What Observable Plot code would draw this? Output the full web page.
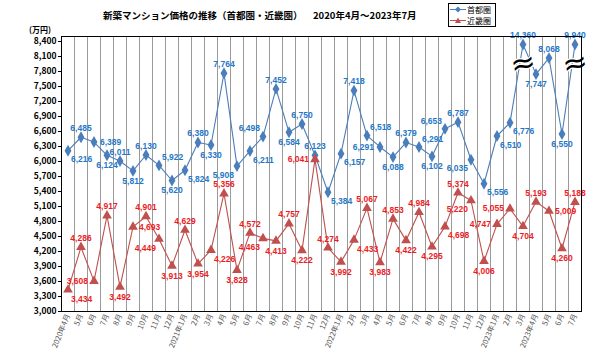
<!DOCTYPE html>
<html>
<head>
<meta charset="utf-8">
<script src="https://cdn.jsdelivr.net/npm/d3@7"></script>
<script src="https://cdn.jsdelivr.net/npm/@observablehq/plot@0.6"></script>
<style>
  html, body { margin: 0; padding: 0; background: #fff; }
  #wrap { position: relative; width: 601px; height: 355px; overflow: hidden; font-family: "Noto Sans CJK JP", sans-serif; }
  #chart { position: absolute; left: 0; top: 0; }
  .title { position: absolute; top: 11px; font-size: 9.5px; font-weight: bold; color: #000; white-space: nowrap; line-height: 1; }
  #unit { position: absolute; left: 29px; top: 26px; font-size: 8px; font-weight: bold; white-space: nowrap; line-height: 1; }
  #legend { position: absolute; left: 448px; top: 3px; width: 46px; height: 22px; border: 1px solid #000; background: #fff; font-size: 8px; line-height: 1; }
  #legend .row { position: absolute; left: 1px; display: flex; align-items: center; gap: 1px; white-space: nowrap; }
</style>
</head>
<body>
<div id="wrap">
  <div id="chart"></div>
  <div class="title" style="left:103px">新築マンション価格の推移（首都圏・近畿圏）</div>
  <div class="title" style="left:313px">2020年4月～2023年7月</div>
  <div id="unit">(万円)</div>
  <div id="legend">
    <div class="row" style="top:1px"><svg width="16" height="9"><line x1="0" y1="4.5" x2="16" y2="4.5" stroke="#4a7ebb" stroke-width="1"/><path d="M8,1.5 L11,4.5 L8,7.5 L5,4.5Z" fill="#4a7ebb"/></svg><span>首都圏</span></div>
    <div class="row" style="top:12px"><svg width="16" height="9"><line x1="0" y1="4.5" x2="16" y2="4.5" stroke="#c0504d" stroke-width="1"/><path d="M8,1.5 L11,7 L5,7Z" fill="#c0504d"/></svg><span>近畿圏</span></div>
  </div>
</div>
<script>
const months = ["2020年4月","5月","6月","7月","8月","9月","10月","11月","12月",
  "2021年1月","2月","3月","4月","5月","6月","7月","8月","9月","10月","11月","12月",
  "2022年1月","2月","3月","4月","5月","6月","7月","8月","9月","10月","11月","12月",
  "2023年1月","2月","3月","2023年4月","5月","6月","7月"];
const shuto = [6216,6485,6389,6124,6011,5812,6130,5922,5620,5824,6380,6330,7764,5908,6211,6498,7452,6584,6750,6123,5384,6157,7418,6518,6291,6088,6379,6291,6102,6653,6787,6035,5556,6510,6776,14360,7747,8068,6550,9940];
const kinki = [3434,4286,3608,4917,3492,4693,4901,4449,3913,4629,3954,4226,5356,3828,4572,4463,4413,4757,4222,6041,4274,3992,4433,5067,3983,4853,4422,4984,4295,4698,5374,5220,4006,4747,5055,4704,5193,5009,4260,5188];
const yTicks = [3000,3300,3600,3900,4200,4500,4800,5100,5400,5700,6000,6300,6600,6900,7200,7500,7800,8100,8400];
const yMin = 3000, yMax = 8500;
const cap = 8340; // values above the axis are drawn at the top with a break mark

const W = 601, H = 355, mL = 61, mR = 20, mT = 36, mB = 44;
const fmt = d3.format(",");
const xPx = d3.scaleLinear([-0.5, months.length - 0.5], [mL, W - mR]);
const yPx = d3.scaleLinear([yMin, yMax], [H - mB, mT]);

function kind(arr, i) {
  const v = arr[i], p = arr[i - 1], n = arr[i + 1];
  if (p === undefined) return n > v ? "min" : "max";
  if (n === undefined) return p > v ? "min" : "max";
  if (p < v && n < v) return "max";
  if (p > v && n > v) return "min";
  return p > v ? "fall" : "rise";
}
function rows(arr, series) {
  return arr.map((v, i) => ({i, v, y: Math.min(v, cap), series, kind: kind(arr, i), broken: v > yMax}));
}
const S = rows(shuto, "s");
const K = rows(kinki, "k");
const bounds = months.slice(1).map((_, i) => i + 0.5);

// ---- greedy label placement (avoid points, lines and other labels) ----
const cands = {
  top:    {cx: 0,  cy: -9, anchor: "middle"},
  bottom: {cx: 0,  cy: 10, anchor: "middle"},
  left:   {cx: -6, cy: 0,  anchor: "end"},
  right:  {cx: 6,  cy: 0,  anchor: "start"},
  ur:     {cx: 3,  cy: -8, anchor: "start"},
  ul:     {cx: -3, cy: -8, anchor: "end"},
  lr:     {cx: 3,  cy: 9,  anchor: "start"},
  ll:     {cx: -3, cy: 9,  anchor: "end"}
};
const prefs = {
  max:  ["top", "ul", "ur", "left", "right"],
  min:  ["bottom", "ll", "lr", "right", "left"],
  fall: ["ur", "ll", "right", "left", "lr", "ul", "top", "bottom"],
  rise: ["ul", "lr", "right", "left", "ur", "ll", "top", "bottom"]
};
const textW = s => s.split("").reduce((a, c) => a + (c === "," ? 2.7 : 5.0), 0);
function boxOf(d, key, pad = 0) {
  const c = cands[key], w = textW(fmt(d.v));
  const px = xPx(d.i) + c.cx, py = yPx(d.y) + c.cy;
  const x0 = c.anchor === "middle" ? px - w / 2 : c.anchor === "start" ? px : px - w;
  return [x0 - pad, py - 4 - pad, x0 + w + pad, py + 4 + pad];
}
const overlap = (a, b) => Math.max(0, Math.min(a[2], b[2]) - Math.max(a[0], b[0])) * Math.max(0, Math.min(a[3], b[3]) - Math.max(a[1], b[1]));
const pointBoxes = [...S, ...K].map(d => [xPx(d.i) - 4, yPx(d.y) - 4, xPx(d.i) + 4, yPx(d.y) + 4]);
const lineSamples = [];
for (const arr of [S, K]) for (let j = 0; j < arr.length - 1; j++) {
  const x1 = xPx(arr[j].i), y1 = yPx(arr[j].y), x2 = xPx(arr[j + 1].i), y2 = yPx(arr[j + 1].y);
  const n = Math.ceil(Math.hypot(x2 - x1, y2 - y1) / 2);
  for (let k = 1; k < n; k++) lineSamples.push([x1 + (x2 - x1) * k / n, y1 + (y2 - y1) * k / n]);
}
const placed = [];
const order = [...S, ...K].sort((a, b) => ((a.kind === "max" || a.kind === "min") ? 0 : 1) - ((b.kind === "max" || b.kind === "min") ? 0 : 1) || a.i - b.i);
for (const d of order) {
  let best = null, bestCost = Infinity;
  prefs[d.kind].forEach((key, rank) => {
    const b = boxOf(d, key, 1);
    let cost = rank * 6;
    for (const p of placed) cost += 80 * overlap(b, p);
    for (const p of pointBoxes) cost += 8 * overlap(b, p);
    for (const s of lineSamples) if (s[0] > b[0] && s[0] < b[2] && s[1] > b[1] && s[1] < b[3]) cost += 4;
    if (b[0] < mL + 1 || b[2] > W - mR + 14 || b[1] < mT - 8 || b[3] > H - mB - 1) cost += 200;
    if (cost < bestCost) { bestCost = cost; best = key; }
  });
  d.pos = best;
  placed.push(boxOf(d, best, 0));
}

const blueLine = "#4a7ebb", redLine = "#c0504d";
const blueText = "#1f78c8", redText = "#ee1c25";
const lblFont = {fontSize: 8.5, fontWeight: "bold", fontFamily: "Liberation Sans, Arial, sans-serif"};

function labels(data, fill) {
  return Object.entries(cands).map(([key, c]) =>
    Plot.text(data.filter(d => d.pos === key), {x: "i", y: "y", text: d => fmt(d.v), fill, dx: c.cx, dy: c.cy, textAnchor: c.anchor, ...lblFont}));
}

const chart = Plot.plot({
  width: W,
  height: H,
  marginLeft: mL,
  marginRight: mR,
  marginTop: mT,
  marginBottom: mB,
  style: {fontFamily: "Noto Sans CJK JP, sans-serif", background: "transparent", overflow: "visible"},
  x: {domain: [-0.5, months.length - 0.5]},
  y: {domain: [yMin, yMax]},
  marks: [
    Plot.ruleX(bounds, {stroke: "#808080", strokeWidth: 0.8}),
    Plot.axisY({ticks: yTicks, tickFormat: d => fmt(d), tickSize: 3, tickPadding: 2, fontSize: 8.5, fontWeight: "bold", label: null, fill: "#000"}),
    Plot.axisX({ticks: months.map((_, i) => i), tickFormat: i => months[i], tickRotate: -68, tickSize: 0, tickPadding: 3, fontSize: 7.5, label: null, fill: "#555"}),
    Plot.line(S, {x: "i", y: "y", stroke: blueLine, strokeWidth: 1.1}),
    Plot.line(K, {x: "i", y: "y", stroke: redLine, strokeWidth: 1.1}),
    Plot.text(S.filter(d => d.broken), {x: "i", y: d => d.y - 380, text: () => "≈", fontSize: 30, fill: "#000", stroke: "#fff", strokeWidth: 2.5, paintOrder: "stroke", rotate: -12, fontFamily: "DejaVu Sans"}),
    Plot.dot(S, {x: "i", y: "y", symbol: "diamond", r: 3.6, fill: blueLine}),
    Plot.dot(K, {x: "i", y: "y", symbol: "triangle", r: 3.6, fill: redLine}),
    ...labels(S, blueText),
    ...labels(K, redText),
    Plot.frame({stroke: "#000", strokeWidth: 1})
  ]
});
document.getElementById("chart").appendChild(chart);
</script>
</body>
</html>
